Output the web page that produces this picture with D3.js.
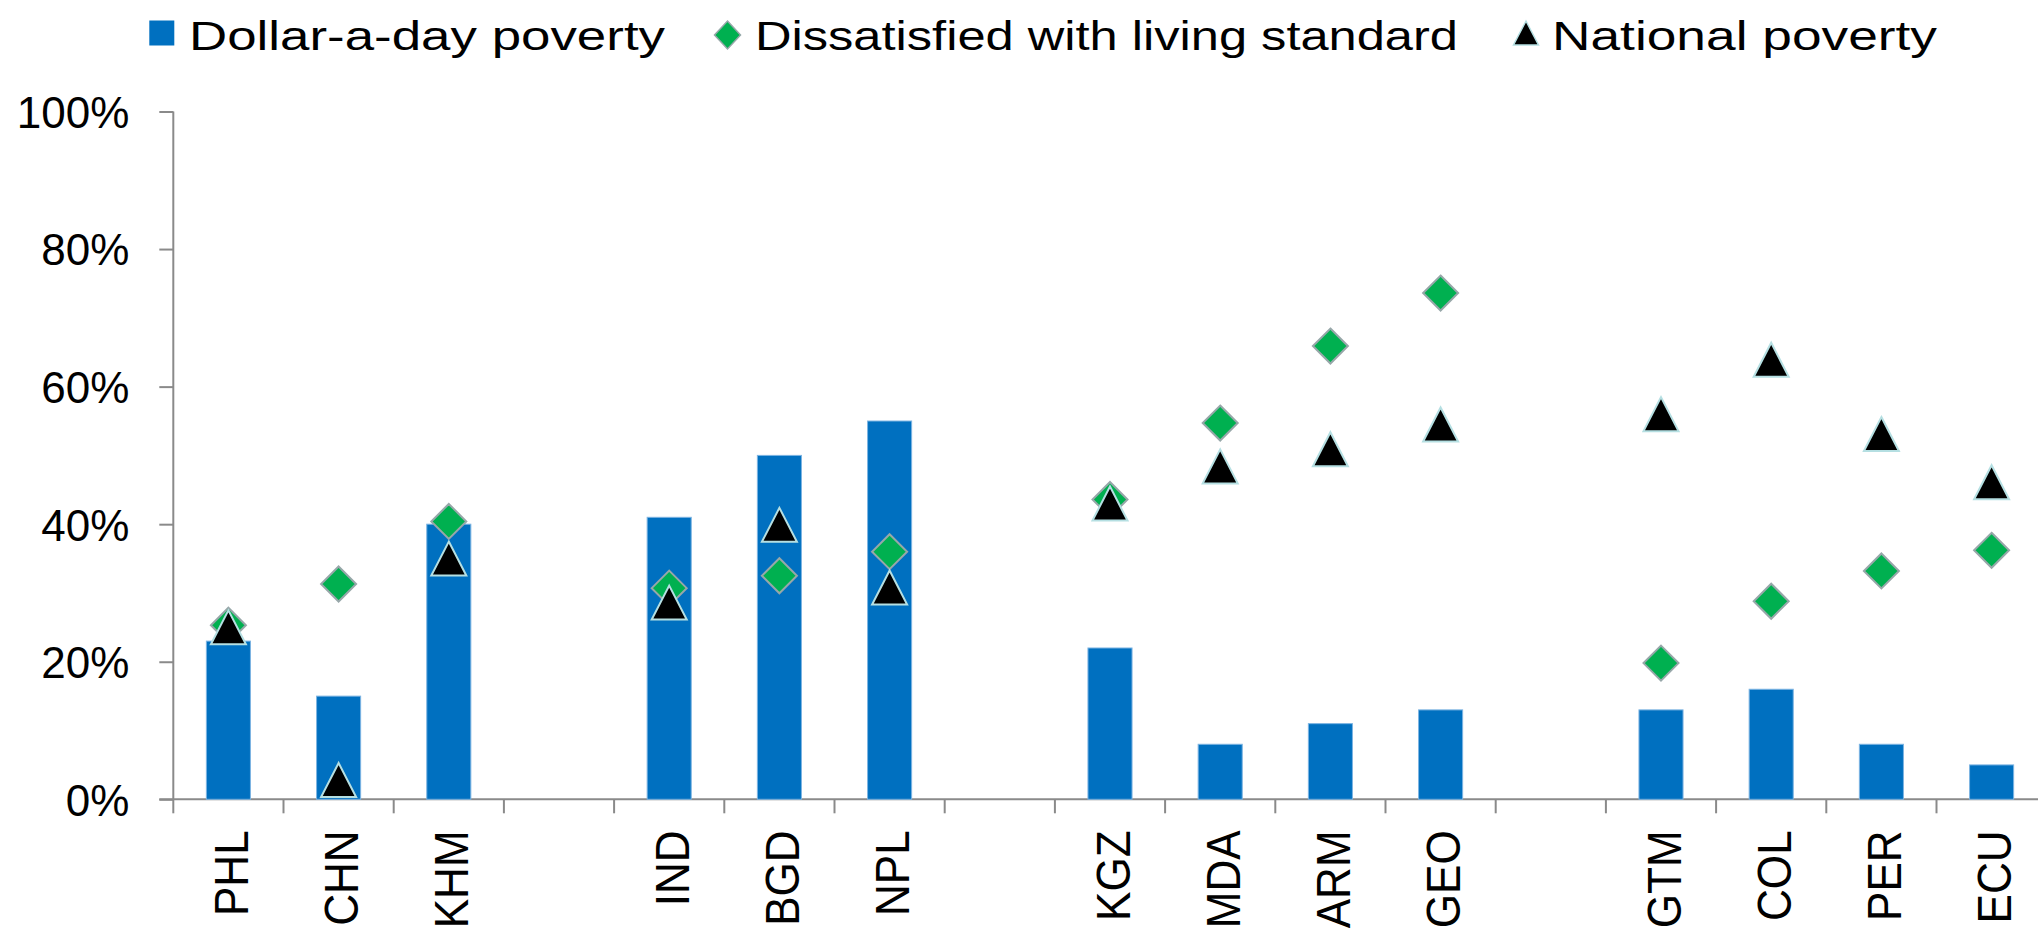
<!DOCTYPE html>
<html>
<head>
<meta charset="utf-8">
<script src="https://cdn.jsdelivr.net/npm/d3@7"></script>
<style>
  html, body { margin: 0; padding: 0; background: #ffffff; }
  svg { display: block; }
</style>
</head>
<body>
<svg id="chart" width="2038" height="939"></svg>
<script>
// Country codes; null marks an empty slot separating regional groups
const categories = ["PHL", "CHN", "KHM", null, "IND", "BGD", "NPL", null,
                    "KGZ", "MDA", "ARM", "GEO", null, "GTM", "COL", "PER", "ECU"];

// Share of population (%)
const dollarADay     = [23, 15, 40, null, 41, 50, 55, null, 22, 8, 11, 13, null, 13, 16, 8, 5];
const dissatisfied   = [25.3, 31.3, 40.4, null, 30.7, 32.5, 36.0, null, 43.6, 54.7, 65.9, 73.6, null, 19.8, 28.8, 33.2, 36.2];
const nationalPovert = [25.0, 2.8, 35.0, null, 28.6, 39.9, 30.8, null, 43.0, 48.4, 50.9, 54.5, null, 56.0, 63.9, 53.1, 46.1];

const yTicks = [0, 20, 40, 60, 80, 100];
const seriesNames = ["Dollar-a-day poverty", "Dissatisfied with living standard", "National poverty"];

const COLORS = { bar: "#0070C0", barEdge: "#7db4e2", diamond: "#00B050", diamondEdge: "#97a7a9",
                 tri: "#000000", triEdge: "#b5dfe2", axis: "#8a8a8a", text: "#000000" };

const svg = d3.select("#chart");
const W = 2038;

const plot = { left: 173.3, top: 111.5, bottom: 799.3, step: 110.2 };

const x = d3.scaleBand()
  .domain(d3.range(categories.length))
  .range([plot.left, plot.left + plot.step * categories.length])
  .padding(0);

const y = d3.scaleLinear().domain([0, 100]).range([plot.bottom, plot.top]);

const barW = x.bandwidth() * 0.4;
const cx = i => x(i) + x.bandwidth() / 2;

// ---- axes ----
const yAxis = d3.axisLeft(y).tickValues(yTicks).tickSize(14).tickFormat(d => d + "%").tickPadding(30);
const gy = svg.append("g").attr("transform", `translate(${plot.left},0)`).call(yAxis);
gy.select(".domain").attr("d", `M0,${plot.top}V${plot.bottom}`);
gy.selectAll("line, path").attr("stroke", COLORS.axis).attr("stroke-width", 2);
gy.selectAll("text")
  .attr("font-family", "'Liberation Sans', Arial, sans-serif")
  .attr("font-size", 44)
  .attr("fill", COLORS.text)
  .attr("dy", "0.36em");

// x axis: baseline plus tick marks on slot boundaries
const gx = svg.append("g");
gx.append("line")
  .attr("x1", plot.left - 14).attr("x2", W)
  .attr("y1", y(0)).attr("y2", y(0))
  .attr("stroke", COLORS.axis).attr("stroke-width", 2);
gx.selectAll("line.tick")
  .data(d3.range(categories.length + 1))
  .join("line")
  .attr("class", "tick")
  .attr("x1", i => plot.left + i * x.step()).attr("x2", i => plot.left + i * x.step())
  .attr("y1", y(0)).attr("y2", y(0) + 14)
  .attr("stroke", COLORS.axis).attr("stroke-width", 2);

gx.selectAll("text.cat")
  .data(categories.map((c, i) => ({ c, i })).filter(d => d.c))
  .join("text")
  .attr("class", "cat")
  .attr("transform", d => `translate(${cx(d.i) + 19.5},${y(0) + 31}) rotate(-90) scale(0.9,1)`)
  .attr("text-anchor", "end")
  .attr("font-family", "'Liberation Sans', Arial, sans-serif")
  .attr("font-size", 49)
  .attr("fill", COLORS.text)
  .text(d => d.c);

// ---- bars ----
svg.append("g").selectAll("rect")
  .data(dollarADay.map((v, i) => ({ v, i })).filter(d => d.v != null))
  .join("rect")
  .attr("x", d => cx(d.i) - barW / 2)
  .attr("width", barW)
  .attr("y", d => y(d.v))
  .attr("height", d => y(0) - y(d.v))
  .attr("fill", COLORS.bar)
  .attr("stroke", COLORS.barEdge)
  .attr("stroke-width", 1);

// ---- markers ----
const diamondPath = (w, h) => `M0,${-h / 2}L${w / 2},0L0,${h / 2}L${-w / 2},0Z`;
const trianglePath = (w, h) => `M0,${-h / 2}L${w / 2},${h / 2}L${-w / 2},${h / 2}Z`;

svg.append("g").selectAll("path")
  .data(dissatisfied.map((v, i) => ({ v, i })).filter(d => d.v != null))
  .join("path")
  .attr("transform", d => `translate(${cx(d.i)},${y(d.v)})`)
  .attr("d", diamondPath(35, 35))
  .attr("fill", COLORS.diamond)
  .attr("stroke", COLORS.diamondEdge)
  .attr("stroke-width", 2);

svg.append("g").selectAll("path")
  .data(nationalPovert.map((v, i) => ({ v, i })).filter(d => d.v != null))
  .join("path")
  .attr("transform", d => `translate(${cx(d.i)},${y(d.v)})`)
  .attr("d", trianglePath(35, 34))
  .attr("fill", COLORS.tri)
  .attr("stroke", COLORS.triEdge)
  .attr("stroke-width", 2);

// ---- legend ----
const legendLayout = [
  { sym: "square",   sx: 161.8, textX: 189,  len: 476 },
  { sym: "diamond",  sx: 727.5, textX: 755,  len: 703 },
  { sym: "triangle", sx: 1526,  textX: 1552, len: 385 }
];
const lg = svg.append("g");
const legendY = 33;
legendLayout.forEach((L, k) => {
  if (L.sym === "square") {
    lg.append("rect").attr("x", L.sx - 12.5).attr("y", legendY - 12.5)
      .attr("width", 25).attr("height", 25).attr("fill", COLORS.bar);
  } else if (L.sym === "diamond") {
    lg.append("path").attr("transform", `translate(${L.sx},${legendY + 2})`)
      .attr("d", diamondPath(26, 28))
      .attr("fill", COLORS.diamond).attr("stroke", COLORS.diamondEdge).attr("stroke-width", 1.5);
  } else {
    lg.append("path").attr("transform", `translate(${L.sx},${legendY})`)
      .attr("d", trianglePath(25, 24))
      .attr("fill", COLORS.tri).attr("stroke", COLORS.triEdge).attr("stroke-width", 1.5);
  }
  lg.append("text")
    .attr("x", L.textX).attr("y", 50)
    .attr("font-family", "'Liberation Sans', Arial, sans-serif")
    .attr("font-size", 41)
    .attr("fill", COLORS.text)
    .attr("textLength", L.len)
    .attr("lengthAdjust", "spacingAndGlyphs")
    .text(seriesNames[k]);
});
</script>
</body>
</html>
